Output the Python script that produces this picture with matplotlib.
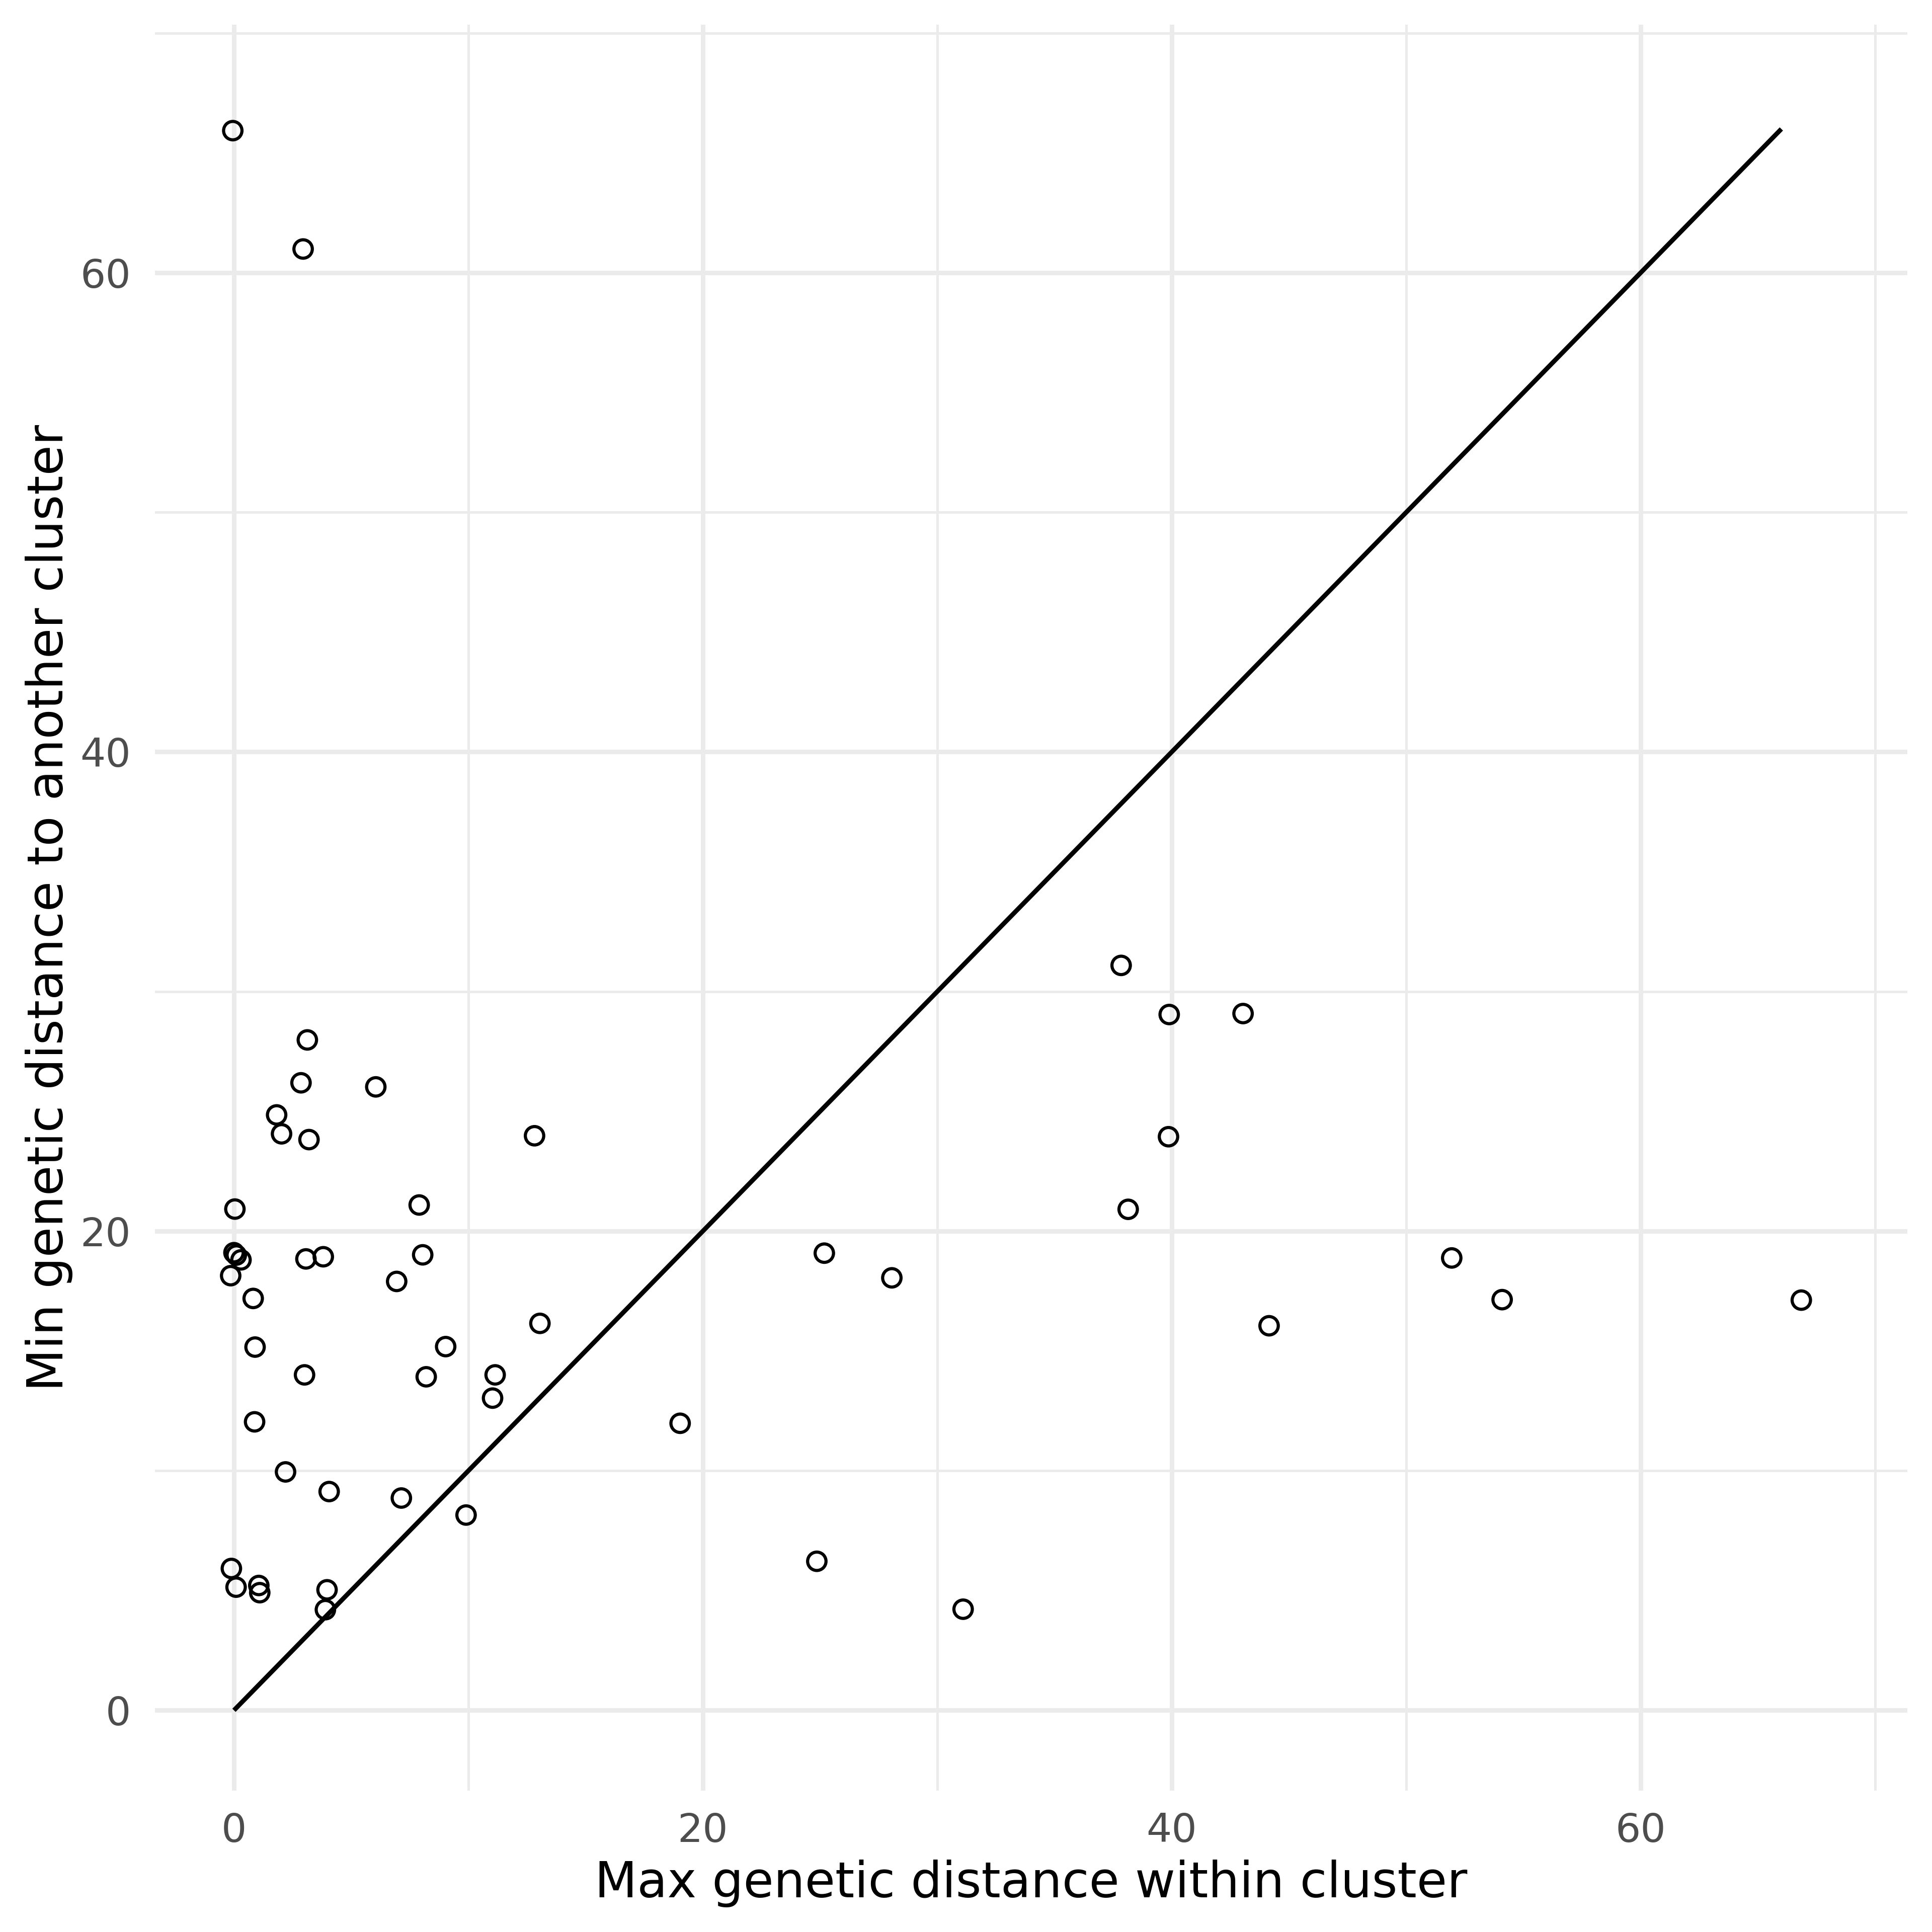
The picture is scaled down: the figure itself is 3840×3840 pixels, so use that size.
import matplotlib
matplotlib.use("Agg")
import matplotlib.pyplot as plt
from matplotlib.ticker import MultipleLocator

# Max genetic distance within cluster (x) vs min distance to another cluster (y)
max_within = [
    -0.05, 2.95,
    3.13, 2.86, 6.05, 1.82, 2.03, 3.20, 12.82,
    37.84, 39.89, 43.04, 39.86, 38.14,
    0.04, 7.90, 0.0, 0.1, 0.3, 3.07, 3.81, 8.05, -0.14, 6.94, 0.82,
    13.05, 0.90, 9.03, 3.01, 8.20, 11.14, 11.03, 0.88, 2.20, 4.06, 7.14,
    9.90, -0.11, 0.09, 1.06, 1.10, 3.97, 3.90,
    51.94, 54.09, 66.85,
    25.18, 28.06, 44.15, 19.03, 24.86, 31.10,
]
min_between = [
    65.93, 60.99,
    27.98, 26.19, 26.02, 24.85, 24.06, 23.82, 23.98,
    31.09, 29.04, 29.08, 23.94, 20.91,
    20.92, 21.09, 19.1, 19.0, 18.8, 18.84, 18.93, 19.01, 18.14, 17.90, 17.19,
    16.15, 15.16, 15.18, 14.00, 13.92, 14.00, 13.03, 12.04, 9.95, 9.13, 8.86,
    8.15, 5.92, 5.14, 5.21, 4.91, 5.03, 4.20,
    18.88, 17.14, 17.12,
    19.08, 18.05, 16.05, 11.98, 6.22, 4.22,
]
identity_x = [0, 66]
identity_y = [0, 66]

x_major = [0, 20, 40, 60]
y_major = [0, 20, 40, 60]
x_title = "Max genetic distance within cluster"
y_title = "Min genetic distance to another cluster"

plt.rcParams['font.family'] = ['DejaVu Sans']

fig = plt.figure(figsize=(12.8, 12.8), dpi=300)
ax = fig.add_axes([0.0802, 0.0732, 0.9872 - 0.0802, 0.9872 - 0.0732])

grid_col = "#EBEBEB"
ax.set_xlim(-3.37, 71.37)
ax.set_ylim(-3.35, 70.35)
ax.set_xticks(x_major)
ax.set_yticks(y_major)
ax.xaxis.set_minor_locator(MultipleLocator(10))
ax.yaxis.set_minor_locator(MultipleLocator(10))
ax.grid(True, which='major', color=grid_col, linewidth=2.16)
ax.grid(True, which='minor', color=grid_col, linewidth=1.2)
ax.set_axisbelow(True)
for s in ax.spines.values():
    s.set_visible(False)

ax.tick_params(which='both', length=0)
ax.tick_params(axis='x', which='major', pad=10, labelsize=19, labelcolor="#4D4D4D")
ax.tick_params(axis='y', which='major', pad=11.5, labelsize=19, labelcolor="#4D4D4D")

ax.scatter(max_within, min_between, s=77, facecolors='none', edgecolors='black',
           linewidths=1.5, zorder=3)
ax.plot(identity_x, identity_y, color='black', linewidth=2.2, zorder=4,
        solid_capstyle='butt')

ax.set_xlabel(x_title, fontsize=23.5, color='black', labelpad=4.6)
ax.set_ylabel(y_title, fontsize=23.5, color='black', labelpad=3.5)

fig.savefig("out.png", dpi=300, facecolor='white')
